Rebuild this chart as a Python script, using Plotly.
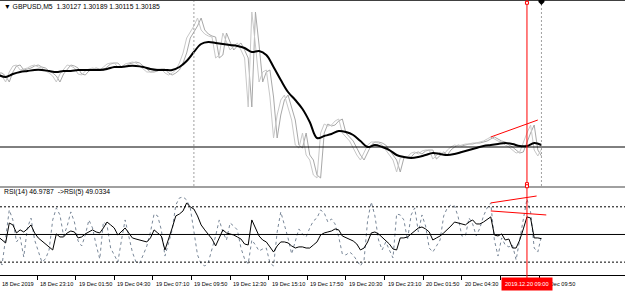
import plotly.graph_objects as go

# ---------------- data (times = minutes since 18 Dec 2019 20:30) ----------------
STEP_PRICE = 15   # minutes between sampled close values
STEP_MA = 30      # minutes between sampled moving-average values

close = [1.30718,1.30697,1.30655,1.30725,1.30767,1.30774,1.30739,1.30746,1.30753,1.30767,
         1.30774,1.30760,1.30753,1.30732,1.30718,1.30697,1.30655,1.30711,1.30746,1.30774,
         1.30767,1.30753,1.30711,1.30704,1.30732,1.30746,1.30753,1.30746,1.30739,1.30760,
         1.30781,1.30788,1.30788,1.30760,1.30760,1.30781,1.30788,1.30795,1.30788,1.30767,
         1.30746,1.30725,1.30725,1.30732,1.30746,1.30746,1.30718,1.30704,1.30718,1.30739,
         1.30788,1.30858,1.30963,1.31005,1.31047,1.31103,1.31019,1.30991,1.30977,1.30970,
         1.30823,1.30844,1.30998,1.30935,1.30879,1.30907,1.30928,1.30879,1.30823,1.30480,
         1.31145,1.30914,1.30655,1.30725,1.30739,1.30550,1.30263,1.30424,1.30529,1.30564,
         1.30473,1.30389,1.30214,1.30193,1.30298,1.30144,1.30109,1.30004,1.29983,1.30298,
         1.30361,1.30347,1.30354,1.30382,1.30396,1.30298,1.30270,1.30242,1.30193,1.30144,
         1.30109,1.30165,1.30214,1.30235,1.30235,1.30228,1.30214,1.30179,1.30144,1.30109,
         1.30025,1.30123,1.30130,1.30130,1.30158,1.30165,1.30151,1.30172,1.30179,1.30179,
         1.30116,1.30144,1.30165,1.30144,1.30179,1.30200,1.30214,1.30207,1.30214,1.30221,
         1.30221,1.30228,1.30228,1.30235,1.30242,1.30256,1.30270,1.30256,1.30242,1.30235,
         1.30214,1.30200,1.30179,1.30158,1.30165,1.30235,1.30298,1.30354,1.30179,1.30137,
         1.30185]

ma_slow = [1.30704,1.30690,1.30711,1.30725,1.30732,1.30739,1.30739,1.30732,1.30725,1.30732,
           1.30732,1.30739,1.30739,1.30739,1.30739,1.30746,1.30760,1.30760,1.30767,1.30767,
           1.30760,1.30746,1.30739,1.30739,1.30739,1.30760,1.30802,1.30865,1.30921,1.30935,
           1.30928,1.30921,1.30914,1.30907,1.30893,1.30865,1.30872,1.30844,1.30760,1.30669,
           1.30585,1.30529,1.30466,1.30375,1.30263,1.30277,1.30291,1.30312,1.30305,1.30284,
           1.30242,1.30200,1.30214,1.30200,1.30179,1.30144,1.30130,1.30123,1.30130,1.30144,
           1.30158,1.30151,1.30144,1.30151,1.30165,1.30179,1.30193,1.30207,1.30214,1.30221,
           1.30228,1.30221,1.30207,1.30207,1.30228,1.30214]

rsi14 = [48.2,46.0,43.9,58.3,56.9,51.1,53.3,51.8,54.0,56.9,
         51.1,47.5,45.3,43.1,41.0,38.8,50.4,48.2,48.2,51.1,
         52.5,51.8,47.5,48.2,50.4,51.8,53.3,51.8,51.1,54.7,
         59.0,56.9,54.7,49.6,51.8,54.7,51.1,47.5,46.7,46.0,
         45.3,44.6,47.5,53.3,51.1,48.9,38.8,46.0,54.7,63.4,
         64.8,67.0,72.8,69.9,68.4,63.4,56.9,53.3,50.4,46.7,
         41.7,47.5,53.3,51.1,50.4,49.6,48.2,46.7,43.1,42.4,
         60.5,54.7,48.9,46.0,44.6,41.0,37.3,41.7,44.6,44.6,
         43.9,41.7,40.2,41.0,41.0,40.2,40.2,42.4,44.6,49.6,
         51.1,51.8,52.5,54.0,53.3,48.9,47.5,46.7,45.3,43.1,
         38.8,40.2,44.6,51.1,51.8,50.4,48.2,46.0,43.1,39.5,
         38.8,47.5,47.5,48.2,50.4,52.5,54.7,55.4,54.0,51.8,
         46.0,47.5,48.9,51.1,53.3,56.1,59.0,58.3,57.6,56.9,
         59.0,60.5,57.6,57.6,59.0,61.2,62.7,49.6,48.9,50.4,
         46.0,46.7,40.2,40.2,46.0,54.0,62.7,61.9,47.5,47.5,
         46.9787]

rsi5 = [33.0,27.9,47.5,67.7,60.5,44.6,48.2,33.7,54.7,61.9,
        46.0,37.3,30.1,32.3,38.8,60.5,69.2,64.1,48.9,56.1,
        66.3,59.0,45.3,41.7,49.6,60.5,54.7,42.4,32.3,59.0,
        56.9,40.2,35.2,30.1,46.0,60.5,48.9,37.3,30.1,29.4,
        35.2,41.7,51.8,64.8,63.4,53.3,34.4,43.9,53.3,71.3,
        76.4,77.1,75.0,69.2,51.8,35.2,28.7,27.2,30.1,38.8,
        48.9,60.5,51.8,46.0,58.3,56.1,53.3,40.2,32.3,28.7,
        46.0,42.4,38.1,39.5,40.2,29.4,27.2,51.8,66.3,56.9,
        47.5,35.9,46.0,54.0,50.4,48.2,54.7,59.8,61.9,67.7,
        65.6,59.0,61.2,57.6,48.2,35.9,35.2,37.3,35.2,31.6,
        27.2,31.6,60.5,73.5,63.4,46.0,38.8,44.6,38.8,33.0,
        64.8,64.1,60.5,46.0,64.1,69.2,51.8,64.1,56.1,40.2,
        37.3,41.7,46.0,63.4,69.2,71.3,70.6,62.7,48.9,48.9,
        61.9,57.6,48.9,54.7,63.4,69.2,72.8,46.0,34.4,47.5,
        42.4,41.0,42.4,31.6,46.0,61.9,75.7,66.3,40.2,37.3,
        49.0334]

tick_minutes = [0, 160, 320, 480, 640, 800, 960, 1120, 1280, 1440, 1600, 1760, 1920, 2080, 2240]
tick_labels = ["18 Dec 2019", "18 Dec 23:10", "19 Dec 01:50", "19 Dec 04:30", "19 Dec 07:10",
               "19 Dec 09:50", "19 Dec 12:30", "19 Dec 15:10", "19 Dec 17:50", "19 Dec 20:30",
               "19 Dec 23:10", "20 Dec 01:50", "20 Dec 04:30", "20 Dec 07:10", "20 Dec 09:50"]

header_symbol = "GBPUSD,M5"
header_ohlc = [1.30127, 1.30189, 1.30115, 1.30185]
level_price = 1.3020
rsi_levels = [70, 50, 30]
separator_minutes = [810, 2250]          # 19 Dec 10:00, 20 Dec 10:00
cursor_minute = 2190                     # 2019.12.20 09:00
cursor_label = "2019.12.20 09:00"
last_bar_minute = 2250

trend_main_t = [2040, 2235]
trend_main_p = [1.30270, 1.30389]
trend_rsi1_t = [2040, 2230]
trend_rsi1_v = [72.8, 77.8]
trend_rsi2_t = [2040, 2270]
trend_rsi2_v = [67.0, 64.1]

X_RANGE = [6.6, 2596.2]
PRICE_RANGE = [1.29927, 1.31229]
RSI_RANGE = [20.7, 83.6]

# ---------------- figure ----------------
price_t = [STEP_PRICE * i for i in range(len(close))]
ma_t = [STEP_MA * i for i in range(len(ma_slow))]
open_ = [close[0]] + close[:-1]

FONT = "Liberation Sans Narrow, Arial Narrow, Liberation Sans, Arial"
AX_FONT = 5.6

fig = go.Figure()
fig.add_trace(go.Scatter(x=price_t, y=open_, mode="lines", line=dict(color="#a8a8a8", width=1),
                         xaxis="x", yaxis="y", hoverinfo="skip"))
fig.add_trace(go.Scatter(x=price_t, y=close, mode="lines", line=dict(color="#c8c8c8", width=1),
                         xaxis="x", yaxis="y", hoverinfo="skip"))
fig.add_trace(go.Scatter(x=ma_t, y=ma_slow, mode="lines", line=dict(color="black", width=2, shape="spline"),
                         xaxis="x", yaxis="y", hoverinfo="skip"))
fig.add_trace(go.Scatter(x=trend_main_t, y=trend_main_p, mode="lines", line=dict(color="red", width=1),
                         xaxis="x", yaxis="y", hoverinfo="skip"))

fig.add_trace(go.Scatter(x=price_t, y=rsi5, mode="lines", line=dict(color="#7a8899", width=1, dash="dot"),
                         xaxis="x", yaxis="y2", hoverinfo="skip"))
fig.add_trace(go.Scatter(x=price_t, y=rsi14, mode="lines", line=dict(color="black", width=1),
                         xaxis="x", yaxis="y2", hoverinfo="skip"))
fig.add_trace(go.Scatter(x=trend_rsi1_t, y=trend_rsi1_v, mode="lines", line=dict(color="red", width=1),
                         xaxis="x", yaxis="y2", hoverinfo="skip"))
fig.add_trace(go.Scatter(x=trend_rsi2_t, y=trend_rsi2_v, mode="lines", line=dict(color="red", width=1),
                         xaxis="x", yaxis="y2", hoverinfo="skip"))

shapes = []
shapes.append(dict(type="line", xref="paper", x0=0, x1=1, yref="y", y0=level_price, y1=level_price,
                   line=dict(color="black", width=1)))
for lv in rsi_levels:
    shapes.append(dict(type="line", xref="paper", x0=0, x1=1, yref="y2", y0=lv, y1=lv,
                       line=dict(color="black", width=1, dash="solid" if lv == 50 else "2px,2px")))
for m in separator_minutes:
    shapes.append(dict(type="line", xref="x", x0=m, x1=m, yref="y domain", y0=0, y1=1,
                       line=dict(color="#a0a0a0", width=1, dash="2px,2px")))
shapes.append(dict(type="rect", xref="paper", x0=0, x1=1, yref="paper", y0=0.3160, y1=0.3240,
                   fillcolor="#a0a0a0", line=dict(width=0)))
shapes.append(dict(type="line", xref="paper", x0=0, x1=1, yref="paper", y0=1, y1=1,
                   line=dict(color="#404040", width=2)))
shapes.append(dict(type="line", xref="x", x0=cursor_minute, x1=cursor_minute, yref="paper", y0=-0.03, y1=1,
                   line=dict(color="red", width=1)))
for yr, ya in (("y domain", 0.985), ("y domain", 0.01), ("y2 domain", 1.02)):
    shapes.append(dict(type="rect", xref="x", xsizemode="pixel", xanchor=cursor_minute, x0=-1.5, x1=1.5,
                       yref=yr, ysizemode="pixel", yanchor=ya, y0=-1.5, y1=1.5,
                       line=dict(color="red", width=1), fillcolor="white"))
shapes.append(dict(type="path", xref="x", xsizemode="pixel", xanchor=last_bar_minute,
                   yref="y domain", ysizemode="pixel", yanchor=1,
                   path="M -3,0 L 3,0 L 3,-2 L 0,-5 L -3,-2 Z",
                   fillcolor="black", line=dict(color="black", width=0)))

annotations = []
annotations.append(dict(xref="paper", yref="paper", x=0.003, y=0.978, xanchor="left", yanchor="middle",
                        text="▼ " + header_symbol + "  " + " ".join(f"{v:.5f}" for v in header_ohlc),
                        showarrow=False, font=dict(family=FONT, size=6.8, color="black")))
annotations.append(dict(xref="paper", yref="paper", x=0.003, y=0.3018, xanchor="left", yanchor="middle",
                        text=f"RSI(14) {rsi14[-1]:.4f}  ->RSI(5) {rsi5[-1]:.4f}",
                        showarrow=False, font=dict(family=FONT, size=6.8, color="black")))
for t, lab in zip(tick_minutes, tick_labels):
    if t < X_RANGE[0]:
        # first label sits at the very left edge of the chart
        annotations.append(dict(xref="paper", yref="paper", x=0, y=-0.033, xanchor="left", yanchor="middle",
                                text=lab, showarrow=False,
                                font=dict(family=FONT, size=AX_FONT, color="black")))
    else:
        annotations.append(dict(xref="x", yref="paper", x=t, y=-0.033, xanchor="left", yanchor="middle",
                                xshift=1, text=lab, showarrow=False,
                                font=dict(family=FONT, size=AX_FONT, color="black")))
annotations.append(dict(xref="x", yref="paper", x=cursor_minute, y=-0.033, xanchor="center", yanchor="middle",
                        text=cursor_label, showarrow=False, bgcolor="red", borderpad=3,
                        font=dict(family=FONT, size=AX_FONT, color="white")))

fig.update_layout(
    width=625, height=293,
    margin=dict(l=0, r=0, t=0, b=18),
    paper_bgcolor="white", plot_bgcolor="white",
    showlegend=False,
    shapes=shapes, annotations=annotations,
    xaxis=dict(range=X_RANGE, anchor="y2", showgrid=False, zeroline=False,
               showline=True, linecolor="black", linewidth=1,
               tickmode="array", tickvals=tick_minutes, ticks="outside", ticklen=4,
               tickcolor="black", tickwidth=1, showticklabels=False),
    yaxis=dict(domain=[0.3236, 1], range=PRICE_RANGE, showgrid=False, zeroline=False,
               showticklabels=False, ticks=""),
    yaxis2=dict(domain=[0, 0.3164], range=RSI_RANGE, showgrid=False, zeroline=False,
                showticklabels=False, ticks=""),
)

fig.write_html("out.html")
